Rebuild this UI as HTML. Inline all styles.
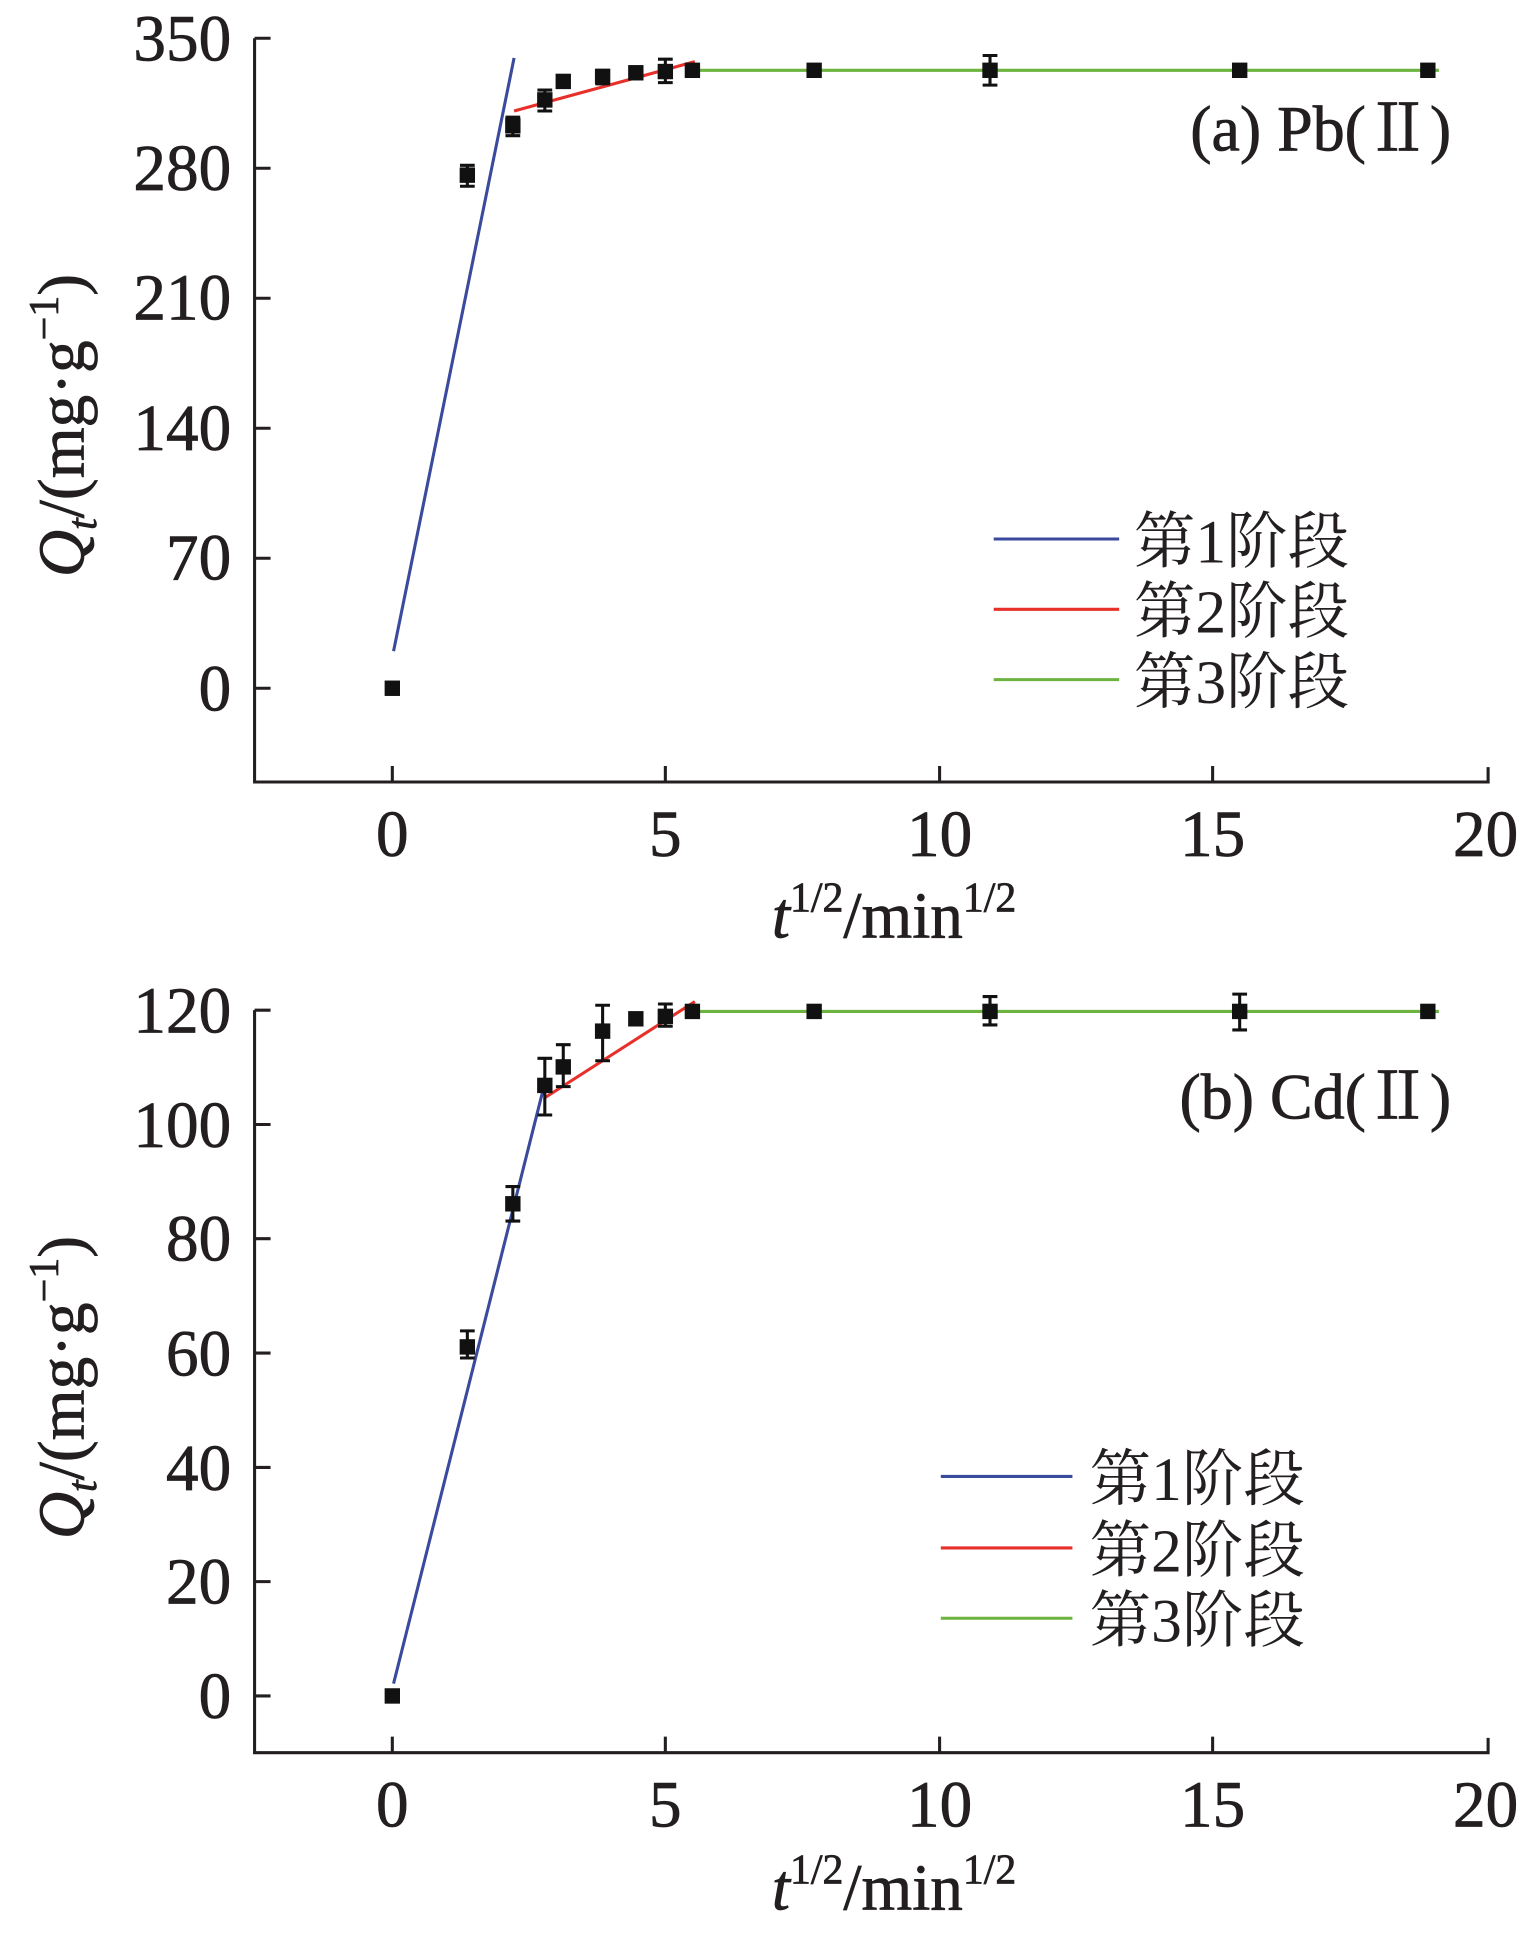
<!DOCTYPE html>
<html><head><meta charset="utf-8"><style>
html,body{margin:0;padding:0;background:#fff;}
svg{display:block;}
text{font-family:"Liberation Serif","Noto Serif CJK SC","Noto Sans CJK SC",serif;fill:#231f20;}
.cj{font-family:"Noto Serif CJK SC","Liberation Serif",serif;}
</style></head><body>
<svg width="1525" height="1934" viewBox="0 0 1240 1568" preserveAspectRatio="none" xmlns="http://www.w3.org/2000/svg">
<g stroke="#231f20" stroke-width="2.5" fill="none">
<path d="M207,31 V634 H1210 V622"/>
<path d="M207,31 h13 M207,136.4 h13 M207,241.8 h13 M207,347.2 h13 M207,452.6 h13 M207,558 h13"/>
<path d="M319,634 v-13 M541,634 v-13 M764,634 v-13 M986,634 v-13"/>
<path d="M207,819 V1421 H1210 V1409"/>
<path d="M207,819 h13 M207,911.7 h13 M207,1004.3 h13 M207,1097 h13 M207,1189.7 h13 M207,1282.3 h13 M207,1375 h13"/>
<path d="M319,1421 v-13 M541,1421 v-13 M764,1421 v-13 M986,1421 v-13"/>
</g>
<g font-size="53" text-anchor="end" stroke="#231f20" stroke-width="0.6">
<text x="188" y="49">350</text><text x="188" y="154">280</text><text x="188" y="259">210</text>
<text x="188" y="365">140</text><text x="188" y="470">70</text><text x="188" y="576">0</text>
<text x="188" y="837">120</text><text x="188" y="930">100</text><text x="188" y="1022">80</text>
<text x="188" y="1115">60</text><text x="188" y="1208">40</text><text x="188" y="1300">20</text><text x="188" y="1393">0</text>
</g>
<g font-size="53" text-anchor="middle" stroke="#231f20" stroke-width="0.6">
<text x="319" y="694">0</text><text x="541" y="694">5</text><text x="764" y="694">10</text><text x="986" y="694">15</text><text x="1208" y="694">20</text>
<text x="319" y="1481">0</text><text x="541" y="1481">5</text><text x="764" y="1481">10</text><text x="986" y="1481">15</text><text x="1208" y="1481">20</text>
</g>
<g font-size="53" text-anchor="middle" stroke="#231f20" stroke-width="0.6">
<text x="727" y="760"><tspan font-style="italic">t</tspan><tspan font-size="34" dy="-21">1/2</tspan><tspan dy="21">/min</tspan><tspan font-size="34" dy="-21">1/2</tspan></text>
<text x="727" y="1548"><tspan font-style="italic">t</tspan><tspan font-size="34" dy="-21">1/2</tspan><tspan dy="21">/min</tspan><tspan font-size="34" dy="-21">1/2</tspan></text>
<text transform="translate(68,345) rotate(-90)"><tspan font-style="italic">Q</tspan><tspan font-style="italic" font-size="34" dy="10">t</tspan><tspan dy="-10">/(mg·g</tspan><tspan font-size="34" dy="-21">−1</tspan><tspan dy="21">)</tspan></text>
<text transform="translate(68,1125) rotate(-90)"><tspan font-style="italic">Q</tspan><tspan font-style="italic" font-size="34" dy="10">t</tspan><tspan dy="-10">/(mg·g</tspan><tspan font-size="34" dy="-21">−1</tspan><tspan dy="21">)</tspan></text>
</g>
<g font-size="52" text-anchor="end" stroke="#231f20" stroke-width="0.6">
<text x="1180" y="122">(a)  Pb(Ⅱ)</text>
<text x="1180" y="907">(b)  Cd(Ⅱ)</text>
</g>
<g stroke-width="2.5" fill="none">
<path d="M320,528 L418,47" stroke="#3a4a9c"/>
<path d="M418,90 L565,50" stroke="#e8302a"/>
<path d="M565,57 L1170,57" stroke="#6cb33f"/>
<path d="M808,437 H910" stroke="#3a4a9c"/><path d="M808,494 H910" stroke="#e8302a"/><path d="M808,551 H910" stroke="#6cb33f"/>
<path d="M320,1365 L443,878" stroke="#3a4a9c"/>
<path d="M443,890 L565,812" stroke="#e8302a"/>
<path d="M565,820 L1170,820" stroke="#6cb33f"/>
<path d="M765,1197 H872" stroke="#3a4a9c"/><path d="M765,1255 H872" stroke="#e8302a"/><path d="M765,1312 H872" stroke="#6cb33f"/>
</g>
<g font-size="50" class="cj">
<text class="cj" x="922" y="456">第<tspan font-family="Liberation Serif">1</tspan>阶段</text><text class="cj" x="922" y="513">第<tspan font-family="Liberation Serif">2</tspan>阶段</text><text class="cj" x="922" y="570">第<tspan font-family="Liberation Serif">3</tspan>阶段</text>
<text class="cj" x="886" y="1216">第<tspan font-family="Liberation Serif">1</tspan>阶段</text><text class="cj" x="886" y="1274">第<tspan font-family="Liberation Serif">2</tspan>阶段</text><text class="cj" x="886" y="1331">第<tspan font-family="Liberation Serif">3</tspan>阶段</text>
</g>
<g fill="#111" stroke="#111" stroke-width="2.5">
<rect x="314" y="553" width="10" height="10"/>
<path d="M374,134 h12 M374,151 h12 M380,134 v17"/><rect x="375" y="137" width="10" height="10"/>
<path d="M411,95 h12 M411,110 h12 M417,95 v15"/><rect x="412" y="97" width="10" height="10"/>
<path d="M437,73 h12 M437,90 h12 M443,73 v17"/><rect x="438" y="76" width="10" height="10"/>
<rect x="453" y="61" width="10" height="10"/>
<path d="M484,57 h12 M484,68 h12"/><rect x="485" y="57" width="10" height="10"/>
<rect x="512" y="54" width="10" height="10"/>
<path d="M535,48 h12 M535,67 h12 M541,48 v19"/><rect x="536" y="53" width="10" height="10"/>
<rect x="558" y="52" width="10" height="10"/>
<rect x="657" y="52" width="10" height="10"/>
<path d="M799,45 h12 M799,69 h12 M805,45 v24"/><rect x="800" y="52" width="10" height="10"/>
<rect x="1003" y="52" width="10" height="10"/>
<rect x="1156" y="52" width="10" height="10"/>
<rect x="314" y="1370" width="10" height="10"/>
<path d="M374,1079 h12 M374,1101 h12 M380,1079 v22"/><rect x="375" y="1087" width="10" height="10"/>
<path d="M411,962 h12 M411,990 h12 M417,962 v28"/><rect x="412" y="971" width="10" height="10"/>
<path d="M437,858 h12 M437,904 h12 M443,858 v46"/><rect x="438" y="875" width="10" height="10"/>
<path d="M452,847 h12 M452,881 h12 M458,847 v34"/><rect x="453" y="860" width="10" height="10"/>
<path d="M484,815 h12 M484,860 h12 M490,815 v45"/><rect x="485" y="831" width="10" height="10"/>
<rect x="512" y="821" width="10" height="10"/>
<path d="M535,814 h12 M535,832 h12 M541,814 v18"/><rect x="536" y="819" width="10" height="10"/>
<rect x="558" y="815" width="10" height="10"/>
<rect x="657" y="815" width="10" height="10"/>
<path d="M799,808 h12 M799,831 h12 M805,808 v23"/><rect x="800" y="815" width="10" height="10"/>
<path d="M1002,806 h12 M1002,835 h12 M1008,806 v29"/><rect x="1003" y="815" width="10" height="10"/>
<rect x="1156" y="815" width="10" height="10"/>
</g>
</svg>
</body></html>
